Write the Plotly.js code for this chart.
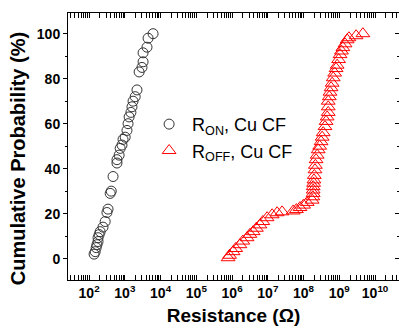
<!DOCTYPE html>
<html>
<head>
<meta charset="utf-8">
<script src="https://cdn.plot.ly/plotly-3.0.1.min.js"></script>
<style>html,body{margin:0;padding:0;background:#fff;}#chart{width:399px;height:335px;}</style>
</head>
<body>
<div id="chart"></div>
<script>
// R_ON, Cu CF : resistance (Ohm) and cumulative probability (%)
var ronResistance = [138,148,158,166,178,178,191,204,245,282,316,339,389,417,468,603,603,692,741,832,891,1023,1148,1230,1318,1479,1585,1698,1950,2188,2512,3020,3236,3236,4169,4467,6166];
var ronProbability = [2,3.1,4.9,6.2,7.6,9.3,10.7,12,14,16.5,20.5,22,29,30,36.5,42.5,44,46,49,50.5,53,54,57,60,63,65,67.5,70,72,75,83,85,87.5,91.5,94,98,100];

// R_OFF, Cu CF
var roffResistance = [7.76e5,8.51e5,1.07e6,1.26e6,1.66e6,2.00e6,2.63e6,3.16e6,3.89e6,4.79e6,
  6.03e6,7.24e6,9.55e6,1.32e7,1.82e7,2.51e7,5.13e7,6.31e7,7.94e7,1.00e8,
  1.26e8,1.74e8,1.82e8,1.86e8,1.86e8,1.86e8,1.91e8,1.95e8,2.00e8,2.09e8,
  2.14e8,2.24e8,2.40e8,2.57e8,2.82e8,3.09e8,3.31e8,3.55e8,3.98e8,4.27e8,
  4.57e8,4.90e8,4.90e8,4.90e8,5.25e8,5.50e8,5.89e8,6.31e8,6.76e8,7.41e8,
  8.13e8,8.71e8,9.55e8,1.05e9,1.15e9,1.26e9,1.45e9,1.66e9,1.86e9,2.95e9,4.57e9];
var roffProbability = [0.4,1.5,3.1,4.5,6.2,7.8,9.3,10.8,12,13.5,
  15,16.5,18.2,19.5,20.4,20.8,21.2,21.8,22.7,23.8,
  25,26,27.5,29,30.5,32,33.5,35,37,39.5,
  41.5,44,46,48.4,50,52,54,56,58.7,61,
  63,65,67.5,70,72,74,76,78,80.4,82.5,
  84.5,86,88.5,90.7,92.3,93.8,95.5,97.3,98.2,99.1,100];

var xTickVals = [1e2,1e3,1e4,1e5,1e6,1e7,1e8,1e9,1e10];
var xTickText = ['10<sup>2</sup>','10<sup>3</sup>','10<sup>4</sup>','10<sup>5</sup>','10<sup>6</sup>','10<sup>7</sup>','10<sup>8</sup>','10<sup>9</sup>','10<sup>10</sup>'];
var seriesNames = ['R<sub>ON</sub>, Cu CF','R<sub>OFF</sub>, Cu CF'];
var xTitle = 'Resistance (Ω)';
var yTitle = 'Cumulative Probability (%)';

var FONT = 'Liberation Sans, Arial, sans-serif';

var traces = [
  {x: ronResistance, y: ronProbability, name: seriesNames[0], type: 'scatter', mode: 'markers',
   marker: {symbol: 'circle-open', size: 10, color: '#333333', line: {width: 1, color: '#333333'}}},
  {x: roffResistance, y: roffProbability, name: seriesNames[1], type: 'scatter', mode: 'markers',
   marker: {symbol: 'triangle-up-open', size: 12, color: '#ff0000', line: {width: 1, color: '#ff0000'}}},
  {x: [], y: [], yaxis: 'y2', showlegend: false, hoverinfo: 'skip', type: 'scatter', mode: 'markers'}
];

var layout = {
  width: 399, height: 335,
  margin: {l: 68, r: 0, t: 13, b: 55},
  paper_bgcolor: '#fff', plot_bgcolor: '#fff',
  font: {family: FONT, color: '#000'},
  showlegend: true,
  legend: {x: 0.236, y: 0.652, xanchor: 'left', yanchor: 'top', bgcolor: 'rgba(0,0,0,0)',
           itemwidth: 36, font: {size: 18, family: FONT, color: '#000'}},
  xaxis: {
    type: 'log', range: [1.41, 10.67],
    tickmode: 'array', tickvals: xTickVals, ticktext: xTickText,
    ticks: 'inside', ticklen: 5, tickwidth: 1, tickcolor: '#000',
    minor: {dtick: 'D1', ticks: 'inside', ticklen: 3, tickwidth: 1, tickcolor: '#000', showgrid: false},
    showline: true, linecolor: '#000', linewidth: 1, mirror: 'allticks',
    showgrid: false, zeroline: false,
    tickfont: {size: 14, family: FONT, weight: 700},
    title: {text: xTitle, font: {size: 19, family: FONT, weight: 700}, standoff: 8}
  },
  yaxis: {
    range: [-9.5, 109.2],
    tickmode: 'linear', tick0: 0, dtick: 20,
    ticks: 'outside', ticklen: 4, tickwidth: 1, tickcolor: '#000',
    minor: {dtick: 10, tick0: 0, ticks: 'outside', ticklen: 2, tickwidth: 1, tickcolor: '#000', showgrid: false},
    showline: true, linecolor: '#000', linewidth: 1, mirror: true,
    showgrid: false, zeroline: false,
    tickfont: {size: 14, family: FONT, weight: 700}
  },
  yaxis2: {
    overlaying: 'y', side: 'right', range: [-9.5, 109.2],
    tickmode: 'linear', tick0: 0, dtick: 20,
    ticks: 'inside', ticklen: 4, tickwidth: 1, tickcolor: '#000',
    minor: {dtick: 10, tick0: 0, ticks: 'inside', ticklen: 2, tickwidth: 1, tickcolor: '#000', showgrid: false},
    showticklabels: false, showline: false, showgrid: false, zeroline: false
  },
  annotations: [
    {text: yTitle, xref: 'paper', yref: 'y', x: -0.152, y: 44.5, xanchor: 'center', yanchor: 'middle',
     textangle: -90, showarrow: false, font: {size: 20, family: FONT, weight: 700, color: '#000'}}
  ]
};

Plotly.newPlot('chart', traces, layout, {staticPlot: true, displayModeBar: false});
</script>
</body>
</html>
